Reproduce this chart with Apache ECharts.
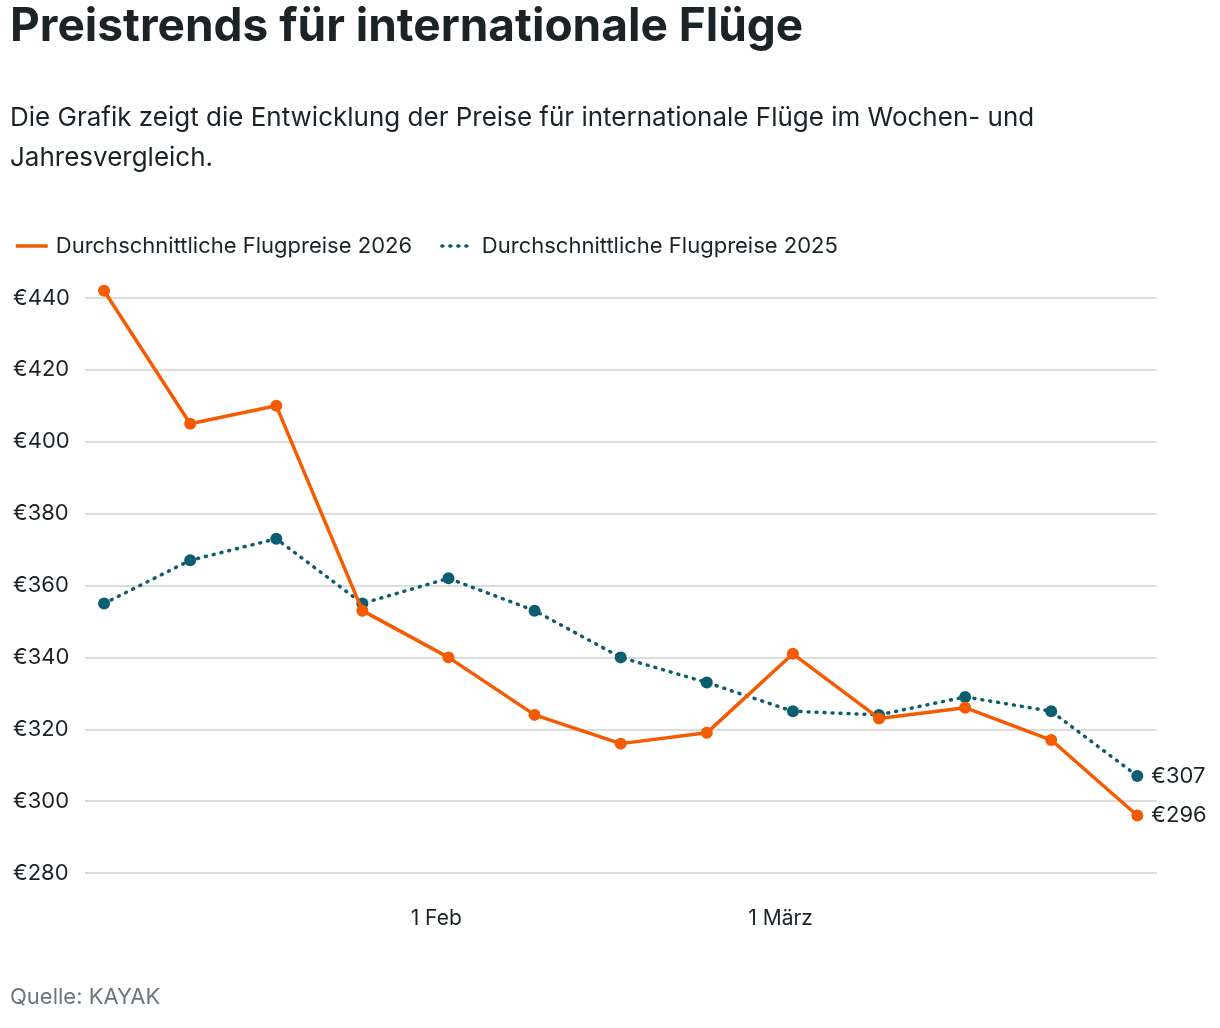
<!DOCTYPE html>
<html>
<head>
<meta charset="utf-8">
<script src="https://cdn.jsdelivr.net/npm/echarts@6/dist/echarts.min.js"></script>
<style>
  html, body { margin: 0; padding: 0; background: #fff; }
  #chart { width: 1220px; height: 1028px; }
</style>
</head>
<body>
<div id="chart"></div>
<script>
// weekly dates (2026) and average prices
var weeks = ['2026-01-05', '2026-01-12', '2026-01-19', '2026-01-26', '2026-02-02', '2026-02-09',
  '2026-02-16', '2026-02-23', '2026-03-02', '2026-03-09', '2026-03-16', '2026-03-23', '2026-03-30'];
var prices2026 = [442, 405, 410, 353, 340, 324, 316, 319, 341, 323, 326, 317, 296];
var prices2025 = [355, 367, 373, 355, 362, 353, 340, 333, 325, 324, 329, 325, 307];
var monthTicks = ['2026-02-01', '2026-03-01'];
var monthLabels = ['1 Feb', '1 März'];
var seriesNames = ['Durchschnittliche Flugpreise 2026', 'Durchschnittliche Flugpreise 2025'];

var FONT = 'Inter, "Noto Sans", sans-serif';
var TEXT = '#1b2326';
var ORANGE = '#f55b00';
var TEAL = '#0b5d6f';

// day number since 1 Jan 2026 (value axis, so custom ticks work)
var DAY = 86400000;
var START = Date.parse('2026-01-01T00:00:00Z');
function toDay(s) { return Math.round((Date.parse(s + 'T00:00:00Z') - START) / DAY); }

function pairs(vals) {
  return vals.map(function (v, i) { return [toDay(weeks[i]), v]; });
}

var tickDays = monthTicks.map(toDay);

var chart = echarts.init(document.getElementById('chart'));

var endLabel = {
  show: true,
  formatter: function (p) { return '€' + p.value[1]; },
  distance: 14,
  fontFamily: FONT, fontSize: 22, color: TEXT
};

chart.setOption({
  backgroundColor: '#fff',
  animation: false,
  textStyle: { fontFamily: FONT },
  title: [
    {
      text: 'Preistrends für internationale Flüge',
      left: 10, top: 4, padding: 0,
      textStyle: { fontFamily: FONT, fontSize: 46, fontWeight: 'bold', color: TEXT }
    },
    {
      text: 'Die Grafik zeigt die Entwicklung der Preise für internationale Flüge im Wochen- und\nJahresvergleich.',
      left: 10, top: 98, padding: 0,
      textStyle: { fontFamily: FONT, fontSize: 26, fontWeight: 'normal', color: TEXT, lineHeight: 40 }
    },
    {
      text: 'Quelle: KAYAK',
      left: 10, top: 986, padding: 0,
      textStyle: { fontFamily: FONT, fontSize: 22, fontWeight: 'normal', color: '#6a757c' }
    }
  ],
  legend: {
    left: 9, top: 230,
    itemWidth: 32, itemHeight: 14, itemGap: 28,
    data: [
      { name: seriesNames[0], lineStyle: { width: 3.5 } },
      { name: seriesNames[1], lineStyle: { width: 3.5 } }
    ],
    itemStyle: { opacity: 0 },
    textStyle: { fontFamily: FONT, fontSize: 22, color: TEXT, padding: [0, 0, 0, 3] }
  },
  grid: { left: 85, right: 63, top: 298, bottom: 155, containLabel: false },
  xAxis: {
    type: 'value',
    min: toDay(weeks[0]) - 1.55,
    max: toDay(weeks[weeks.length - 1]) + 1.6,
    axisLine: { show: false },
    axisTick: { show: false },
    splitLine: { show: false },
    axisLabel: {
      customValues: tickDays,
      formatter: function (v) {
        var i = tickDays.indexOf(v);
        return i >= 0 ? monthLabels[i] : '';
      },
      margin: 35,
      fontFamily: FONT, fontSize: 21, color: TEXT
    }
  },
  yAxis: {
    type: 'value',
    min: 280, max: 440, interval: 20,
    axisLine: { show: false },
    axisTick: { show: false },
    splitLine: { lineStyle: { color: '#dcdcdc', width: 2 } },
    axisLabel: {
      formatter: '€{value}',
      align: 'left',
      margin: 72,
      fontFamily: FONT, fontSize: 22, color: TEXT
    }
  },
  series: [
    {
      name: seriesNames[0],
      type: 'line',
      data: pairs(prices2026),
      clip: false,
      symbol: 'circle', symbolSize: 12,
      itemStyle: { color: ORANGE },
      lineStyle: { color: ORANGE, width: 3.5 },
      z: 3,
      endLabel: endLabel
    },
    {
      name: seriesNames[1],
      type: 'line',
      data: pairs(prices2025),
      clip: false,
      symbol: 'circle', symbolSize: 12,
      itemStyle: { color: TEAL },
      lineStyle: { color: TEAL, width: 3.5, type: [1, 7], cap: 'round' },
      z: 2,
      endLabel: endLabel
    }
  ]
});
</script>
</body>
</html>
